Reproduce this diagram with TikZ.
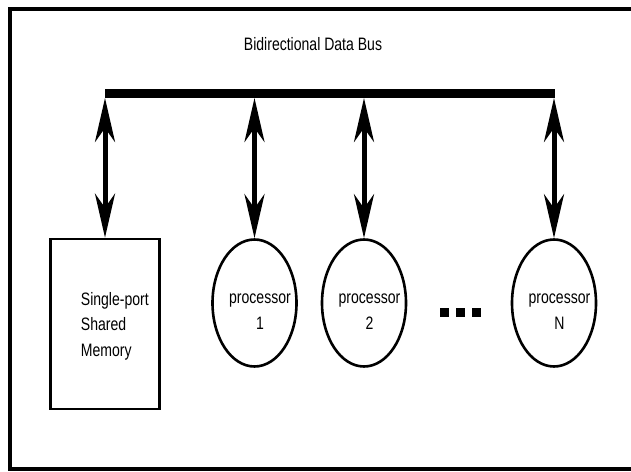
\documentclass[tikz,border=0pt]{standalone}
\usepackage{fontspec}
\newfontfamily\diafont[FakeStretch=0.78]{Liberation Sans}
\usetikzlibrary{arrows.meta,shapes.geometric}

\tikzset{
  frameline/.style={line width=4bp},
  busline/.style={line width=9bp},
  bidir/.style={line width=5bp, {Stealth[length=44bp,width=20bp,inset=14bp]}-{Stealth[length=44bp,width=20bp,inset=14bp]}},
  membox/.style={draw, line width=2.6bp, minimum width=109bp, minimum height=170bp, inner sep=0},
  proc/.style={draw, ellipse, line width=2.6bp, minimum width=84bp, minimum height=127bp, inner sep=0},
  lbl/.style={inner sep=0, font={\diafont\fontsize{18bp}{26bp}\selectfont}},
  memtext/.style={lbl, align=left, anchor=west, font={\diafont\fontsize{18bp}{25.5bp}\selectfont}},
  proctext/.style={lbl, align=center}
}

\begin{document}
\begin{tikzpicture}[x=1bp, y=-1bp]
\useasboundingbox (0,0) rectangle (631,472);
\draw[frameline] (10,9) rectangle (645,469);

\node[lbl, anchor=base] (title) at (313,50.7) {Bidirectional Data Bus};

\coordinate (busL) at (105,93.5);
\coordinate (busR) at (555,93.5);
\coordinate (tap) at (0,98);
\draw[busline] (busL) -- (busR);

\node[membox] (mem) at (105,324) {};
\node[proc] (p1) at (254.5,303) {};
\node[proc] (p2) at (364,303) {};
\node[proc] (pN) at (554,303) {};

\node[memtext] (memlabel) at (80.7,325.9) {Single-port\\Shared\\Memory};
\node[proctext] (p1label) at (260,311.3) {processor\\1};
\node[proctext] (p2label) at (369.5,311.3) {processor\\2};
\node[proctext] (pNlabel) at (559.5,311.3) {processor\\N};

\foreach \n in {mem,p1,p2,pN}
  \draw[bidir] (\n.north |- tap) -- (\n.north);

\foreach \x in {440,456,472}
  \fill (\x,308) rectangle ++(9,9);
\end{tikzpicture}
\end{document}
